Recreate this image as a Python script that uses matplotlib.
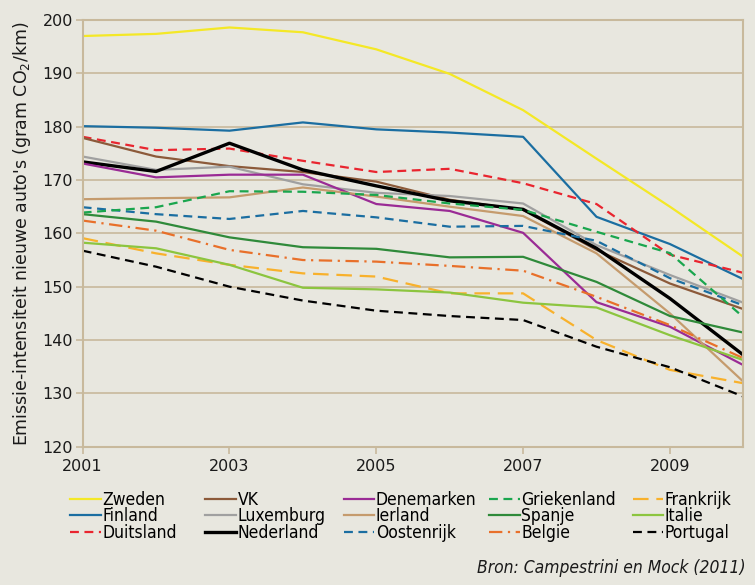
import matplotlib.pyplot as plt
import matplotlib.font_manager as fm

years = [2001, 2002, 2003, 2004, 2005, 2006, 2007, 2008, 2009, 2010]

zweden = [197.0, 197.4, 198.6, 197.7, 194.5, 189.9, 183.1, 174.0, 165.0, 155.6]
finland = [180.1, 179.8, 179.25, 180.8, 179.5, 178.9, 178.1, 163.1, 158.0, 151.4]
duitsland = [178.1, 175.6, 175.9, 173.6, 171.5, 172.1, 169.4, 165.5, 156.0, 152.6]
vk = [177.9, 174.4, 172.6, 171.5, 169.7, 166.3, 164.4, 156.9, 150.6, 145.8]
luxemburg = [174.4, 171.9, 172.5, 169.2, 167.6, 167.0, 165.6, 157.8, 152.2, 147.0]
nederland = [173.4, 171.6, 176.9, 171.9, 168.9, 166.1, 164.5, 157.2, 147.8, 137.2]
denemarken = [173.1, 170.5, 171.0, 171.0, 165.5, 164.2, 160.1, 147.1, 142.5, 135.3]
ierland = [166.4, 166.6, 166.75, 168.6, 166.9, 165.0, 163.25, 156.25, 145.0, 132.2]
oostenrijk = [164.9, 163.6, 162.7, 164.2, 163.0, 161.25, 161.4, 158.6, 151.6, 146.5]
griekenland = [163.9, 164.9, 167.9, 167.8, 167.2, 165.6, 164.4, 160.3, 156.3, 144.3]
spanje = [163.6, 162.2, 159.25, 157.4, 157.1, 155.5, 155.6, 150.9, 144.5, 141.4]
belgie = [162.4, 160.5, 156.9, 155.0, 154.7, 153.9, 153.0, 148.1, 142.8, 136.6]
frankrijk = [159.1, 156.25, 154.1, 152.5, 151.9, 148.75, 148.75, 140.0, 134.4, 131.9]
italie = [158.25, 157.2, 154.1, 149.8, 149.5, 148.9, 147.0, 146.1, 140.9, 136.25]
portugal = [156.75, 153.75, 150.0, 147.4, 145.5, 144.5, 143.75, 138.75, 134.9, 129.4]

bg = "#e8e7df"
tan = "#c8b99c"

fig = plt.figure(figsize=(7.55, 5.85), dpi=100, facecolor=bg)
ax = fig.add_axes([0.1095, 0.2364, 0.875, 0.7294], facecolor=bg)

# naam, data, kleur, stijl, dikte
series = [
    ("Zweden", zweden, "#f4e826", "-", 1.6),
    ("Finland", finland, "#1b6ea1", "-", 1.6),
    ("Duitsland", duitsland, "#e9252f", (0, (4, 2.5)), 1.6),
    ("VK", vk, "#8c5a3a", "-", 1.6),
    ("Luxemburg", luxemburg, "#a0a0a0", "-", 1.6),
    ("Nederland", nederland, "#000000", "-", 2.4),
    ("Denemarken", denemarken, "#9a2b95", "-", 1.6),
    ("Ierland", ierland, "#c59b6d", "-", 1.6),
    ("Oostenrijk", oostenrijk, "#1b6ea1", (0, (4, 2.5)), 1.6),
    ("Griekenland", griekenland, "#1aa64e", (0, (4, 2.5)), 1.6),
    ("Spanje", spanje, "#2f8a3a", "-", 1.6),
    ("Belgie", belgie, "#e8702a", (0, (6, 2.5, 1, 2.5)), 1.6),
    ("Frankrijk", frankrijk, "#f8b12c", (0, (7, 3.5)), 1.6),
    ("Italie", italie, "#8cc53f", "-", 1.6),
    ("Portugal", portugal, "#000000", (0, (4, 2.5)), 1.6),
]

handles = []
for name, vals, col, ls, lw in series:
    h, = ax.plot(years, vals, color=col, linestyle=ls, linewidth=lw, label=name)
    handles.append(h)

ax.set_xlim(2001, 2010)
ax.set_ylim(120, 200)
ax.set_xticks([2001, 2003, 2005, 2007, 2009])
ax.set_yticks(range(120, 201, 10))
ax.yaxis.grid(True, color=tan, linewidth=1.2)
ax.set_axisbelow(True)
for s in ax.spines.values():
    s.set_color(tan)
    s.set_linewidth(1.5)
ax.tick_params(axis="both", colors=tan, length=5, width=1.2, labelsize=11.5, labelcolor="#1a1a1a")
ax.tick_params(axis="y", pad=2)
ax.set_ylabel("Emissie-intensiteit nieuwe auto's (gram CO$_2$/km)", fontsize=12.5, color="#1a1a1a", labelpad=7)

legfont = fm.FontProperties(family="DejaVu Sans", stretch="condensed", size=12.5)
xcols = [0.093, 0.272, 0.455, 0.648, 0.838]
for i, xc in enumerate(xcols):
    fig.legend(handles=handles[i * 3:i * 3 + 3], loc="upper left", bbox_to_anchor=(xc, 0.161),
               frameon=False, prop=legfont, handlelength=1.75, handletextpad=0.1,
               labelspacing=-0.08, borderpad=0, borderaxespad=0)

fig.text(0.987, 0.014, "Bron: Campestrini en Mock (2011)", ha="right", va="bottom",
         fontproperties=fm.FontProperties(family="DejaVu Sans", stretch="condensed",
                                          style="italic", size=12.5), color="#1a1a1a")

fig.savefig("out.png", dpi=100, facecolor=bg)
